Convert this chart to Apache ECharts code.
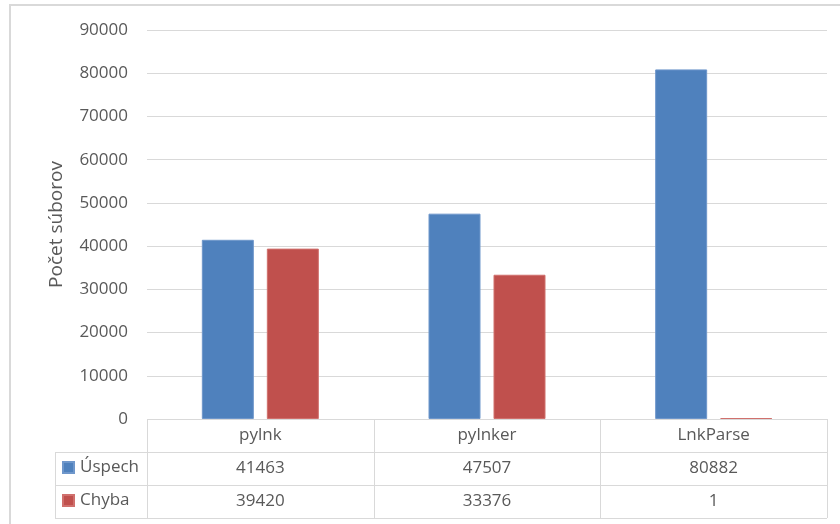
<!DOCTYPE html>
<html><head><meta charset="utf-8">
<script src="https://cdn.jsdelivr.net/npm/echarts@6/dist/echarts.min.js"></script>
<style>html,body{margin:0;padding:0;background:#fff}#c{width:840px;height:524px}</style>
</head><body><div id="c"></div>
<script>
var categories = ['pylnk', 'pylnker', 'LnkParse'];
var seriesNames = ['Úspech', 'Chyba'];
var uspech = [41463, 47507, 80882];
var chyba = [39420, 33376, 1];
var yTicks = {min: 0, max: 90000, interval: 10000};
var yTitle = 'Počet súborov';

var FONT = 'Open Sans';
var TXT = '#595959';
var LINE = '#d9d9d9';
var FS = 17;

var chart = echarts.init(document.getElementById('c'), null, {renderer: 'canvas'});

function tableAxis(offset, fmt) {
  return {
    type: 'category', data: categories, position: 'bottom', offset: offset,
    axisLine: {show: false}, axisTick: {show: false}, splitLine: {show: false},
    axisLabel: {
      show: true, color: TXT, fontFamily: FONT, fontSize: FS, margin: 16.5,
      verticalAlign: 'middle', lineHeight: FS, interval: 0,
      formatter: fmt
    }
  };
}
function legendRow(name, top) {
  return {
    orient: 'horizontal', left: 62, top: top, padding: 0, itemWidth: 11, itemHeight: 11,
    itemGap: 10, icon: 'rect', selectedMode: false,
    textStyle: {color: TXT, fontFamily: FONT, fontSize: FS, padding: [0, 0, 0, 1]},
    data: [name]
  };
}

var option = {
  animation: false,
  color: ['#4F81BD', '#C0504D'],
  grid: {left: 147, right: 13, top: 30, bottom: 105, containLabel: false},
  legend: [legendRow(seriesNames[0], 459), legendRow(seriesNames[1], 492)],
  xAxis: [
    tableAxis(0, function (v) { return v; }),
    tableAxis(33, function (v, i) { return String(uspech[i]); }),
    tableAxis(66, function (v, i) { return String(chyba[i]); })
  ],
  yAxis: {
    type: 'value', min: yTicks.min, max: yTicks.max, interval: yTicks.interval,
    name: yTitle, nameLocation: 'middle', nameGap: 81, nameRotate: 90,
    nameTextStyle: {color: TXT, fontFamily: FONT, fontSize: 19},
    axisLine: {show: false}, axisTick: {show: false},
    axisLabel: {color: TXT, fontFamily: FONT, fontSize: FS, margin: 19,
      formatter: function (v) { return String(v); }},
    splitLine: {lineStyle: {color: LINE, width: 1}}
  },
  series: [
    {name: seriesNames[0], type: 'bar', data: uspech, barWidth: 52, barGap: '25%', xAxisIndex: 0,
     itemStyle: {color: '#4F81BD', borderColor: '#6F97CB', borderWidth: 1}},
    {name: seriesNames[1], type: 'bar', data: chyba, barWidth: 52, barGap: '25%', xAxisIndex: 0, barMinHeight: 1,
     itemStyle: {color: '#C0504D', borderColor: '#D0706D', borderWidth: 1}}
  ]
};
chart.setOption(option);

var rect = chart.getModel().getComponent('grid').coordinateSystem.getRect();
var x0 = rect.x, x1 = rect.x + rect.width, yb = rect.y + rect.height;
var rowH = 33, labelLeft = 55;
var els = [];
function ln(ax, ay, bx, by) {
  els.push({type: 'line', silent: true, shape: {x1: ax, y1: ay, x2: bx, y2: by},
    style: {stroke: LINE, lineWidth: 1}});
}
ln(x0, yb + 0.5, x1, yb + 0.5);
for (var r = 1; r <= 3; r++) ln(labelLeft, yb + r * rowH + 0.5, x1, yb + r * rowH + 0.5);
for (var c = 0; c <= categories.length; c++) {
  var xx = Math.round(x0 + c * rect.width / categories.length) + 0.5;
  ln(xx, yb, xx, yb + 3 * rowH);
}
ln(labelLeft + 0.5, yb + rowH, labelLeft + 0.5, yb + 3 * rowH);
els.push({type: 'rect', silent: true, z: -10, shape: {x: 10, y: 5, width: 840, height: 540},
  style: {fill: 'none', stroke: LINE, lineWidth: 2}});
chart.setOption({graphic: els});
</script></body></html>
